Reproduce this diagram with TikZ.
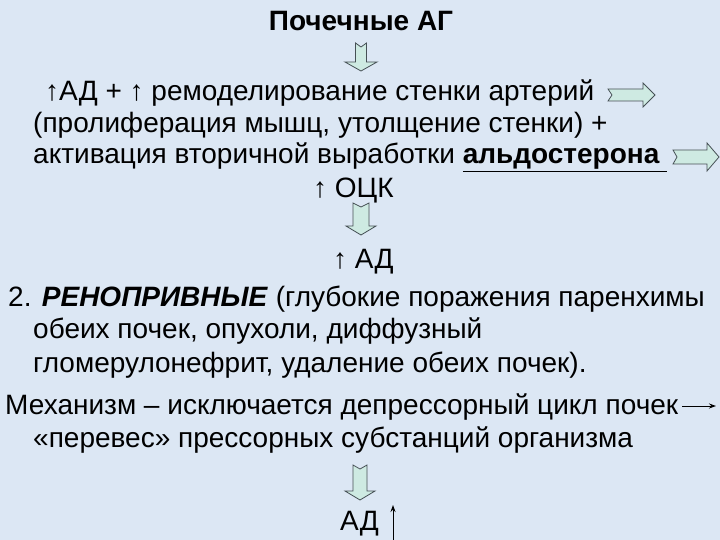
\documentclass[tikz,border=0pt]{standalone}
\usepackage{fontspec}
\setmainfont{Liberation Sans}
\usetikzlibrary{calc,arrows.meta}

\definecolor{bgblue}{RGB}{220,231,244}
\definecolor{arrowfill}{RGB}{206,234,226}
\definecolor{arrowline}{RGB}{70,80,85}

\tikzset{
    txt/.style={anchor=base west, inner sep=0pt, font=\fontsize{28}{32}\selectfont},
    blk/.style={draw=arrowline, fill=arrowfill, line width=0.8pt, line join=miter},
    thin arrow/.style={-{Stealth[length=7pt,width=5pt]}, line width=1pt}
}

% block arrow pointing down: from, to, shaft half width, head half width
\newcommand\downblock[4]{%
    \draw[blk] let \p1=(#1), \p2=(#2) in
        (\x1-#3,\y1) -- (\x1,\y1-4) -- (\x1+#3,\y1) -- (\x1+#3,\y2+9)
        -- (\x1+#4,\y2+9) -- (\x1,\y2) -- (\x1-#4,\y2+9) -- (\x1-#3,\y2+9) -- cycle;
}
% block arrow pointing right: from, to, shaft half width, head half width
\newcommand\rightblock[4]{%
    \draw[blk] let \p1=(#1), \p2=(#2) in
        (\x1,\y1+#3) -- (\x2-12,\y1+#3) -- (\x2-12,\y1+#4) -- (\x2,\y1)
        -- (\x2-12,\y1-#4) -- (\x2-12,\y1-#3) -- (\x1,\y1-#3) -- (\x1+4,\y1) -- cycle;
}

\begin{document}
\begin{tikzpicture}[x=1pt, y=-1pt]
    \fill[bgblue] (0,0) rectangle (720,540);
    \useasboundingbox (0,0) rectangle (720,540);

    % title
    \node[anchor=base, inner sep=0pt, font=\bfseries\fontsize{28}{32}\selectfont]
        (title) at (361,31) {Почечные АГ};

    % first group
    \node[txt] (adrem) at (45,101) {↑АД + ↑ ремоделирование стенки артерий};
    \node[txt] (prolif) at (33,133) {(пролиферация мышц, утолщение стенки) +};
    \node[txt] (aldo) at (33,164) {активация вторичной выработки \underline{\textbf{альдостерона}\ }};
    \node[txt] (ock) at (313,197) {↑ ОЦК};
    \node[txt] (ad) at (333,268) {↑ АД};

    % second group
    \node[txt] (reno) at (8,306) {2. \textbf{\textit{РЕНОПРИВНЫЕ}} (глубокие поражения паренхимы};
    \node[txt] (kidney) at (33,338) {обеих почек, опухоли, диффузный};
    \node[txt] (glom) at (33,372) {гломерулонефрит, удаление обеих почек).};
    \node[txt] (mech) at (5,414) {Механизм – исключается депрессорный цикл почек};
    \node[txt] (press) at (33,447) {«перевес» прессорных субстанций организма};
    \node[txt] (adend) at (340,530) {АД};

    % arrow ends
    \coordinate (d1a) at (361,43);
    \coordinate (d1b) at (361,71);
    \coordinate (d2a) at (361,203);
    \coordinate (d2b) at (361,235);
    \coordinate (d3a) at (360,465);
    \coordinate (d3b) at (360,500);
    \coordinate (r1a) at (608,95);
    \coordinate (r1b) at (655,95);
    \coordinate (r2a) at (673,157);
    \coordinate (r2b) at (719,157);
    \coordinate (mechstart) at ($(mech.base east)+(4,-8)$);
    \coordinate (mechend) at (716,0 |- mechstart);
    \coordinate (upa) at (393,540);
    \coordinate (upb) at (393,505);

    \downblock{d1a}{d1b}{5.5}{16}
    \downblock{d2a}{d2b}{8}{15}
    \downblock{d3a}{d3b}{7}{15}
    \rightblock{r1a}{r1b}{6}{12}
    \rightblock{r2a}{r2b}{7}{14}

    \draw[thin arrow] (mechstart) -- (mechend);
    \draw[thin arrow] (upa) -- (upb);
\end{tikzpicture}
\end{document}
